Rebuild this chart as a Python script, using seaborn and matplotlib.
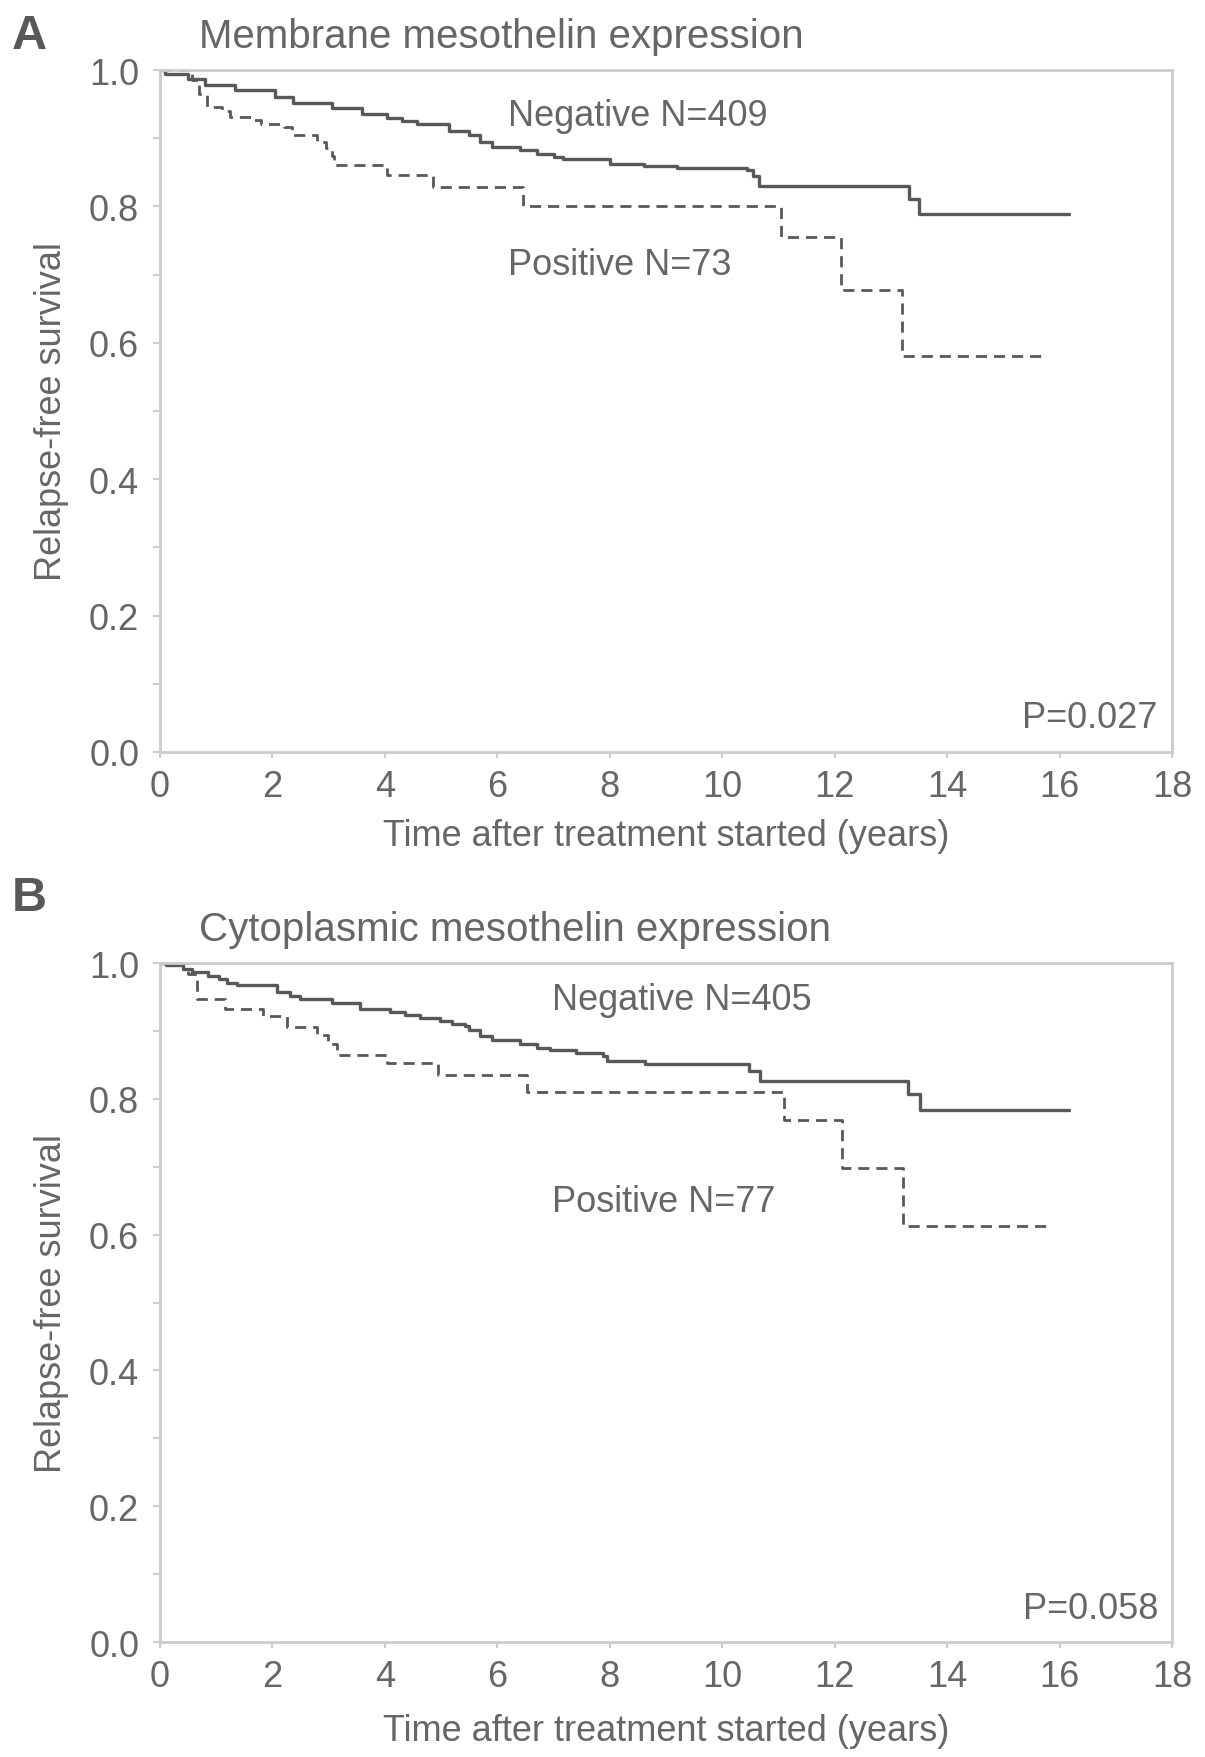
import numpy as np
import pandas as pd
import seaborn as sns
import matplotlib
matplotlib.use('Agg')
import matplotlib.pyplot as plt
from matplotlib.ticker import MultipleLocator

# Kaplan-Meier steps: (time in years, survival after the step)
a_neg_t = [0, 0.09, 0.5, 0.8, 1.33, 2.05, 2.37, 3.06, 3.6, 4.04, 4.3, 4.57, 5.14, 5.5, 5.7, 5.9,
           6.4, 6.7, 7.0, 7.17, 8.0, 8.6, 9.2, 9.8, 10.44, 10.55, 10.65, 13.33, 13.5, 16.16]
a_neg_s = [1.0, 0.994, 0.987, 0.978, 0.970, 0.960, 0.951, 0.944, 0.935, 0.930, 0.925, 0.921, 0.911, 0.905, 0.895, 0.887,
           0.882, 0.877, 0.872, 0.870, 0.862, 0.859, 0.857, 0.856, 0.854, 0.845, 0.830, 0.811, 0.789, 0.789]
a_pos_t = [0, 0.57, 0.7, 0.83, 1.1, 1.25, 1.64, 1.8, 2.2, 2.35, 2.8, 2.95, 3.06, 3.1, 4.04, 4.86,
           6.46, 11.04, 12.12, 13.19, 15.7]
a_pos_s = [1.0, 0.985, 0.965, 0.946, 0.940, 0.931, 0.926, 0.921, 0.916, 0.904, 0.895, 0.885, 0.874, 0.861, 0.846, 0.828,
           0.801, 0.755, 0.678, 0.581, 0.581]

b_neg_t = [0, 0.1, 0.41, 0.57, 0.86, 1.05, 1.2, 1.37, 2.08, 2.31, 2.49, 3.06, 3.56, 4.09, 4.35, 4.63, 4.98,
           5.2, 5.43, 5.5, 5.7, 5.9, 6.4, 6.7, 6.94, 7.4, 7.88, 7.95, 8.63, 10.47, 10.68, 13.3, 13.52, 16.16]
b_neg_s = [1.0, 0.997, 0.991, 0.987, 0.981, 0.976, 0.971, 0.967, 0.957, 0.952, 0.947, 0.941, 0.932, 0.928, 0.923, 0.919, 0.915,
           0.911, 0.908, 0.901, 0.893, 0.886, 0.881, 0.875, 0.872, 0.868, 0.863, 0.856, 0.851, 0.841, 0.827, 0.807, 0.784, 0.784]
b_pos_t = [0, 0.5, 0.65, 1.16, 1.83, 2.25, 2.8, 2.99, 3.14, 4.03, 4.95, 6.53, 11.09, 12.13, 13.22, 15.78]
b_pos_s = [1.0, 0.984, 0.947, 0.932, 0.922, 0.906, 0.894, 0.881, 0.864, 0.853, 0.835, 0.810, 0.769, 0.698, 0.613, 0.613]

panels = [
    dict(letter='A', title='Membrane mesothelin expression',
         neg=(a_neg_t, a_neg_s), pos=(a_pos_t, a_pos_s),
         neg_lab='Negative N=409', pos_lab='Positive N=73', p='P=0.027',
         neg_xy=(6.19, 0.934), pos_xy=(6.19, 0.715)),
    dict(letter='B', title='Cytoplasmic mesothelin expression',
         neg=(b_neg_t, b_neg_s), pos=(b_pos_t, b_pos_s),
         neg_lab='Negative N=405', pos_lab='Positive N=77', p='P=0.058',
         neg_xy=(6.97, 0.947), pos_xy=(6.97, 0.649)),
]

sns.set_theme(style='white')
plt.rcParams['font.family'] = ['Liberation Sans', 'DejaVu Sans']

txt = '#666666'
line_col = '#585858'
spine_col = '#cccccc'

fig = plt.figure(figsize=(12.05, 17.58), dpi=100)
axes_pos = [[0.1328, 0.5717, 0.8398, 0.3879], [0.1328, 0.0654, 0.8398, 0.3862]]
letter_y = [0.979, 0.489]
title_y = [0.979, 0.471]
xlab_pad = [10, 14]

for i, pn in enumerate(panels):
    ax = fig.add_axes(axes_pos[i])
    neg = pd.DataFrame({'t': pn['neg'][0], 's': pn['neg'][1]})
    pos = pd.DataFrame({'t': pn['pos'][0], 's': pn['pos'][1]})
    sns.lineplot(data=neg, x='t', y='s', ax=ax, color=line_col, lw=2.4,
                 drawstyle='steps-post', estimator=None, sort=False)
    sns.lineplot(data=pos, x='t', y='s', ax=ax, color=line_col, lw=2.0,
                 drawstyle='steps-post', estimator=None, sort=False, dashes=False,
                 linestyle=(0, (4, 2.5)))

    ax.set_xlim(0, 18)
    ax.set_ylim(0, 1.0)
    ax.xaxis.set_major_locator(MultipleLocator(2))
    ax.yaxis.set_major_locator(MultipleLocator(0.2))
    ax.yaxis.set_minor_locator(MultipleLocator(0.1))
    ax.set_yticklabels(['%.1f' % v for v in ax.get_yticks()])
    ax.tick_params(axis='both', which='both', colors=spine_col, labelcolor=txt,
                   labelsize=26, direction='out', width=1.5)
    ax.tick_params(axis='x', which='major', length=4, pad=8)
    ax.tick_params(axis='y', which='both', length=5, pad=10)
    ax.tick_params(left=True, bottom=True)
    ax.yaxis.set_tick_params(which='minor', left=True)
    for sp in ax.spines.values():
        sp.set_color(spine_col)
        sp.set_linewidth(2)

    ax.set_xlabel('Time after treatment started (years)', fontsize=26, color=txt, labelpad=xlab_pad[i])
    ax.set_ylabel('Relapse-free survival', fontsize=26, color=txt, labelpad=14)

    ax.text(pn['neg_xy'][0], pn['neg_xy'][1], pn['neg_lab'], fontsize=26, color=txt, va='center')
    ax.text(pn['pos_xy'][0], pn['pos_xy'][1], pn['pos_lab'], fontsize=26, color=txt, va='center')
    ax.text(17.75, 0.05, pn['p'], fontsize=26, color=txt, ha='right', va='center')

    fig.text(0.010, letter_y[i], pn['letter'], fontsize=35, fontweight='bold', color='#585858', va='center')
    fig.text(0.165, title_y[i], pn['title'], fontsize=29, color=txt, va='center')

fig.savefig('out.png', dpi=100)
